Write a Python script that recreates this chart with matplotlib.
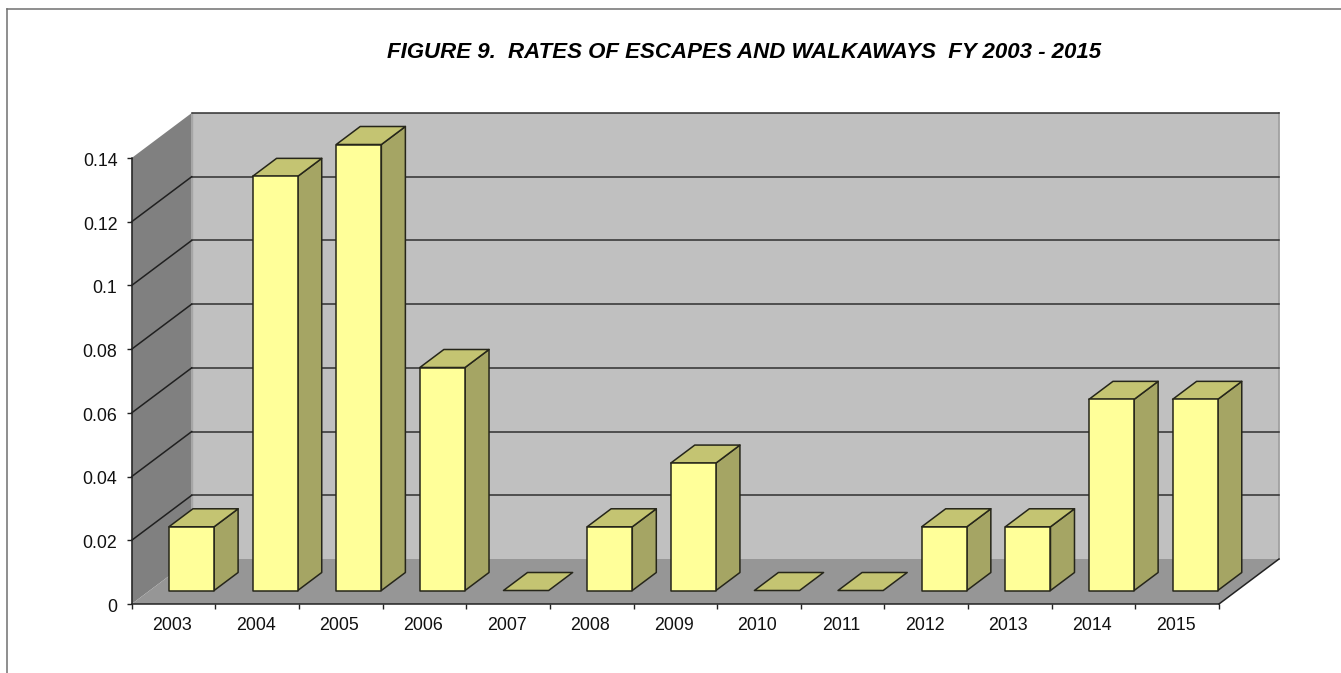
import matplotlib
matplotlib.use("Agg")
import matplotlib.pyplot as plt
from matplotlib.patches import Polygon
from matplotlib.lines import Line2D
from matplotlib.transforms import ScaledTranslation

plt.rcParams['font.family'] = ['Liberation Sans', 'DejaVu Sans']

years = ['2003', '2004', '2005', '2006', '2007', '2008', '2009',
         '2010', '2011', '2012', '2013', '2014', '2015']
rates = [0.02, 0.13, 0.14, 0.07, 0, 0.02, 0.04, 0, 0, 0.02, 0.02, 0.06, 0.06]
y_ticks = [0, 0.02, 0.04, 0.06, 0.08, 0.1, 0.12, 0.14]
y_labels = ['0', '0.02', '0.04', '0.06', '0.08', '0.1', '0.12', '0.14']
title = 'FIGURE 9.  RATES OF ESCAPES AND WALKAWAYS  FY 2003 - 2015'

W, H = 1341, 673
LEFT, RIGHT, TOP, BOTTOM = 131.7, 1219.0, 158.0, 604.0
DEPTH_X_PX, DEPTH_Y_PX = 60.0, 45.0

fig = plt.figure(figsize=(W / 100, H / 100), dpi=100, facecolor='white')
ax = fig.add_axes([LEFT / W, 1 - BOTTOM / H, (RIGHT - LEFT) / W, (BOTTOM - TOP) / H])
ymax = y_ticks[-1]
n = len(years)
ax.set_xlim(0, n)
ax.set_ylim(0, ymax)
ax.patch.set_visible(False)
for s in ['top', 'right']:
    ax.spines[s].set_visible(False)
for s in ['left', 'bottom']:
    ax.spines[s].set_color('#222222')
    ax.spines[s].set_linewidth(1.1)
    ax.spines[s].set_zorder(20)

DX = DEPTH_X_PX / ((RIGHT - LEFT) / n)
DY = DEPTH_Y_PX / ((BOTTOM - TOP) / ymax)


def P(x, v, d):
    """Oblique projection: category position, value, depth 0 (front)..1 (back)."""
    return (x + d * DX, v + d * DY)


def face(pts, color, z, edge='none', lw=0):
    ax.add_patch(Polygon(pts, closed=True, facecolor=color, edgecolor=edge,
                         linewidth=lw, clip_on=False, zorder=z, joinstyle='round'))


# walls and floor
face([P(0, 0, 1), P(n, 0, 1), P(n, ymax, 1), P(0, ymax, 1)], '#c0c0c0', 1)
face([P(0, 0, 0), P(0, 0, 1), P(0, ymax, 1), P(0, ymax, 0)], '#808080', 1)
face([P(0, 0, 0), P(n, 0, 0), P(n, 0, 1), P(0, 0, 1)], '#969696', 2)

# wall outlines
ax.plot(*zip(P(n, 0, 1), P(n, ymax, 1)), color='#a0a0a0', lw=1.3, clip_on=False, zorder=3)
ax.plot(*zip(P(0, 0, 1), P(0, ymax, 1)), color='#a6a6a6', lw=1.0, clip_on=False, zorder=3)
ax.plot(*zip(P(n, 0, 0), P(n, 0, 1)), color='#222222', lw=1.1, clip_on=False, zorder=3)

# gridlines
for v in y_ticks[1:]:
    ax.plot(*zip(P(0, v, 1), P(n, v, 1)), color='#303030', lw=1.1, clip_on=False, zorder=3)
    if v < ymax:
        ax.plot(*zip(P(0, v, 0), P(0, v, 1)), color='#202020', lw=1.1, clip_on=False, zorder=3)

# 3-D bars
BAR_L, BAR_R, D0, D1 = 0.23, 0.77, 0.30, 0.70
edge = '#26261a'
for i, v in enumerate(rates):
    x0, x1 = i + BAR_L, i + BAR_R
    z = 5
    if v > 0:
        face([P(x1, 0, D0), P(x1, 0, D1), P(x1, v, D1), P(x1, v, D0)], '#a5a564', z, edge, 1.1)
    face([P(x0, v, D0), P(x1, v, D0), P(x1, v, D1), P(x0, v, D1)], '#c4c472', z + 1, edge, 1.1)
    if v > 0:
        face([P(x0, 0, D0), P(x1, 0, D0), P(x1, v, D0), P(x0, v, D0)], '#ffff99', z + 2, edge, 1.1)

# axes ticks and labels
ax.set_xticks(range(n + 1))
ax.set_xticklabels([])
ax.set_xticks([i + 0.5 for i in range(n)], minor=True)
ax.set_xticklabels(years, minor=True, fontsize=12.8, color='#111111')
ax.tick_params(axis='x', which='major', length=3.5, width=1.0, color='#222222')
ax.tick_params(axis='x', which='minor', length=0, pad=9)
ax.set_yticks(y_ticks)
ax.set_yticklabels(y_labels, fontsize=12.8, color='#111111')
ax.tick_params(axis='y', which='major', length=3.3, width=1.0, color='#222222', pad=7)

# small nudges of the tick labels, in pixels at 100 dpi
for lab in ax.get_xticklabels(minor=True):
    lab.set_transform(lab.get_transform() + ScaledTranslation(-1.5 / 100, 0, fig.dpi_scale_trans))
for lab in ax.get_yticklabels():
    lab.set_transform(lab.get_transform() + ScaledTranslation(0, -1.3 / 100, fig.dpi_scale_trans))

fig.text(744.5 / W, 1 - 52.5 / H, title, fontsize=16, fontweight='bold', fontstyle='italic',
         ha='center', va='center', color='#000000')

# chart area border: left and top edges only show in the picture
fig.add_artist(Line2D([7 / W, 7 / W], [0, 1 - 8.5 / H], transform=fig.transFigure,
                      color='#707070', linewidth=1.1))
fig.add_artist(Line2D([7 / W, 1], [1 - 8.5 / H, 1 - 8.5 / H], transform=fig.transFigure,
                      color='#707070', linewidth=1.1))

fig.savefig('out.png', dpi=100, facecolor='white')
